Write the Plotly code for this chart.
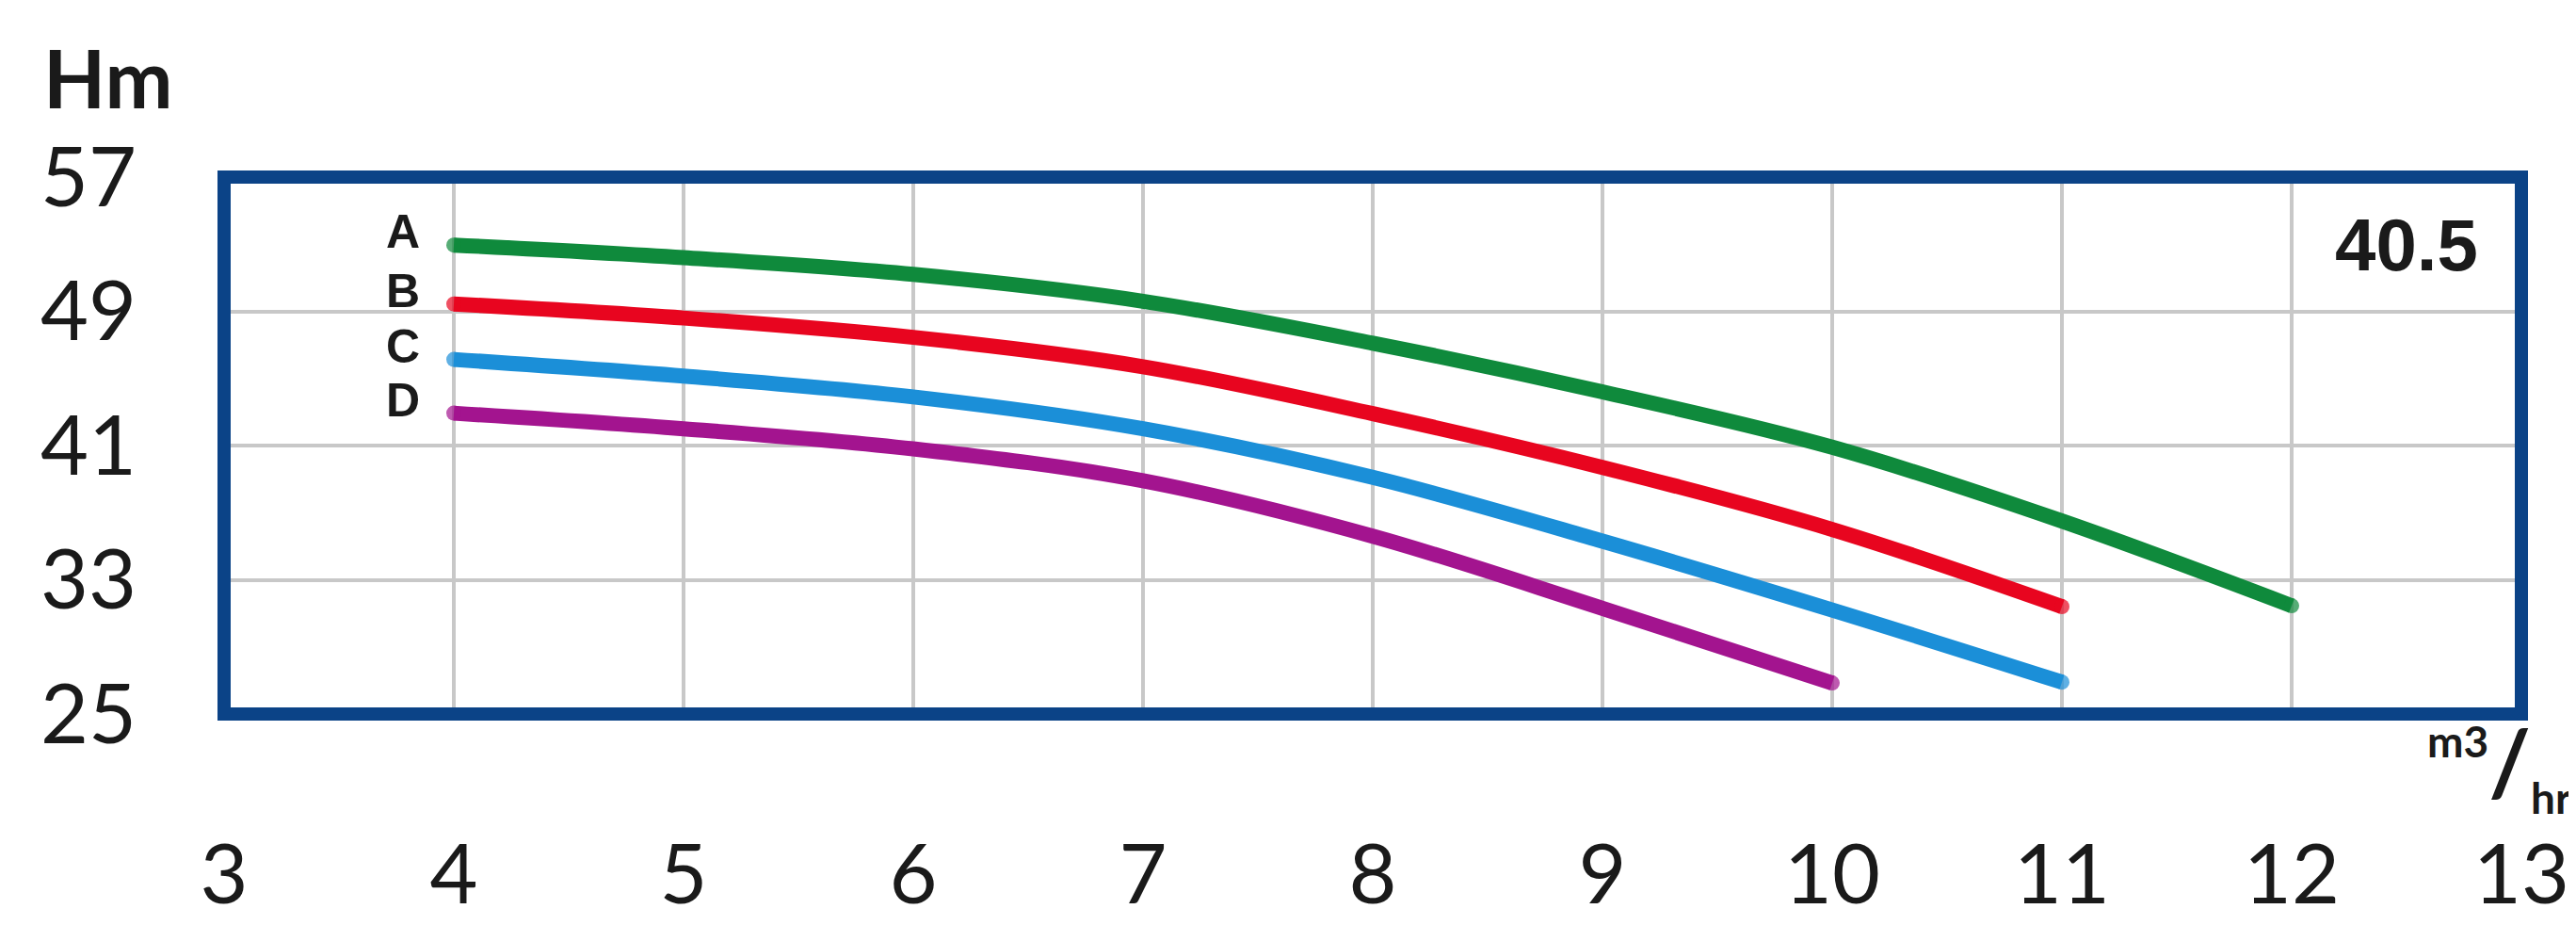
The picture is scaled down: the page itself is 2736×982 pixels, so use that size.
import plotly.graph_objects as go

# pump curves, head (m) against flow (m3/hr)
flow = [4, 5, 6, 7, 8, 9, 10, 11, 12]
head_a = [52.95, 52.2, 51.2, 49.6, 47.1, 44.2, 40.9, 36.5, 31.45]
head_b = [49.44, 48.6, 47.45, 45.7, 42.9, 39.7, 36.0, 31.4]
head_c = [46.13, 45.14, 43.9, 42.0, 39.1, 35.3, 31.2, 26.9]
head_d = [42.93, 42.0, 40.8, 38.9, 35.6, 31.3, 26.85]

curve_names = ['A', 'B', 'C', 'D']
curve_heads = [head_a, head_b, head_c, head_d]
curve_colors = ['#0f8a3c', '#e8051f', '#1b8fd8', '#a3148f']

x_ticks = [3, 4, 5, 6, 7, 8, 9, 10, 11, 12, 13]
y_ticks = [25, 33, 41, 49, 57]
model_label = '40.5'

FRAME = '#0b4387'
GRID = '#c8c8c8'
INK = '#1a1a1a'
LW = 16

fig = go.Figure()

for name, heads, color in zip(curve_names, curve_heads, curve_colors):
    xs = flow[:len(heads)]
    sizes = [0] * len(heads)
    sizes[0] = LW
    sizes[-1] = LW
    fig.add_trace(go.Scatter(
        x=xs, y=heads, mode='lines+markers', name=name,
        line=dict(color=color, width=LW, shape='spline', smoothing=1.0),
        marker=dict(color=color, size=sizes, line=dict(width=0)),
        showlegend=False, hoverinfo='skip',
    ))
    # curve letter left of the start of each curve
    fig.add_annotation(
        x=xs[0], y=heads[0], text='<b>' + name + '</b>', showarrow=False,
        xanchor='right', yanchor='middle', xshift=-34, yshift=14,
        font=dict(family='Liberation Sans', size=50, color=INK),
    )

# frame
fig.add_shape(type='rect', xref='paper', yref='paper', x0=0, x1=1, y0=0, y1=1,
              line=dict(color=FRAME, width=14), layer='above')

fig.add_annotation(x=12.82, y=52.97, text='<b>' + model_label + '</b>', showarrow=False,
                   xanchor='right', yanchor='middle',
                   font=dict(family='Liberation Sans', size=78, color=INK))

fig.add_annotation(xref='paper', yref='paper', x=-0.0795, y=1.186, text='<b>Hm</b>',
                   showarrow=False, xanchor='left', yanchor='middle',
                   font=dict(family='Lato', size=86, color=INK))

# unit label m3/hr as one text
unit = ('<b><sup><span style="font-size:46px">m3</span></sup>/'
        '<sub><span style="font-size:46px">hr</span></sub></b>')
fig.add_annotation(xref='paper', yref='paper', x=1.0225, y=-0.094, text=unit,
                   showarrow=False, xanchor='right', yanchor='middle',
                   font=dict(family='Lato', size=96, color=INK))

fig.update_layout(
    width=2736, height=982,
    margin=dict(l=230, r=66, t=180, b=222),
    paper_bgcolor='white', plot_bgcolor='white',
    font=dict(family='Lato', color=INK),
)
fig.update_xaxes(
    range=[3, 13], tickvals=x_ticks, ticktext=[str(v) for v in x_ticks],
    showgrid=True, gridcolor=GRID, gridwidth=4, zeroline=False, showline=False,
    ticks='', ticklabelstandoff=112, tickfont=dict(family='Lato', size=88, color=INK),
)
fig.update_yaxes(
    range=[25, 57], tickvals=y_ticks, ticktext=[str(v) for v in y_ticks],
    showgrid=True, gridcolor=GRID, gridwidth=4, zeroline=False, showline=False,
    ticks='', ticklabelstandoff=92, tickfont=dict(family='Lato', size=88, color=INK),
)

fig.write_html('out.html')
